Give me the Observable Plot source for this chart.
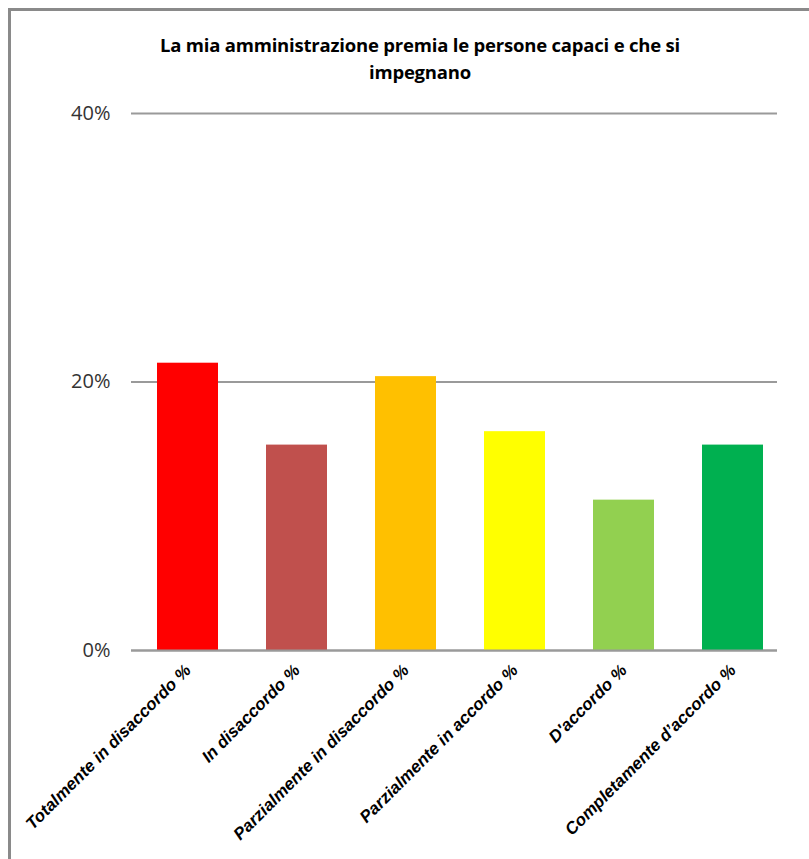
<!DOCTYPE html>
<html>
<head>
<meta charset="utf-8">
<script src="https://cdn.jsdelivr.net/npm/d3@7"></script>
<script src="https://cdn.jsdelivr.net/npm/@observablehq/plot@0.6"></script>
<style>
  html, body { margin: 0; padding: 0; background: #fff; }
  #wrap { position: relative; width: 809px; height: 859px; overflow: hidden; }
  #frame { position: absolute; left: 8px; top: 8px; right: -10px; bottom: -10px;
           border-left: 3px solid #8a8a8a; border-top: 3px solid #8a8a8a; pointer-events: none; }
  #title { position: absolute; left: 0; width: 840px; top: 31px; text-align: center;
           font-family: "Open Sans", Arial, sans-serif; font-weight: bold; font-size: 18.5px;
           letter-spacing: -0.2px; line-height: 27px; color: #000; }
  #chart { position: absolute; left: 0; top: 0; }
</style>
</head>
<body>
<div id="wrap">
  <div id="chart"></div>
  <div id="title">La mia amministrazione premia le persone capaci e che si<br>impegnano</div>
  <div id="frame"></div>
</div>
<script>
const categories = [
  "Totalmente in disaccordo %",
  "In disaccordo %",
  "Parzialmente in disaccordo %",
  "Parzialmente in accordo %",
  "D'accordo %",
  "Completamente d’accordo %"
];
const values = [21.4, 15.3, 20.4, 16.3, 11.2, 15.3];
const colors = ["#FF0000", "#C0504D", "#FFC000", "#FFFF00", "#92D050", "#00B050"];
const yTicks = [0, 20, 40];

const data = categories.map((c, i) => ({category: c, value: values[i], color: colors[i]}));

const chart = Plot.plot({
  width: 809,
  height: 859,
  marginTop: 113,
  marginBottom: 209,
  marginLeft: 131,
  marginRight: 32,
  style: {background: "transparent"},
  x: {domain: categories, range: [132, 788], paddingInner: 0.44, paddingOuter: 0.22, label: null},
  y: {domain: [0, 40], label: null},
  marks: [
    Plot.ruleY(yTicks, {stroke: "#9a9a9a", strokeWidth: 2}),
    Plot.barY(data, {x: "category", y: "value", fill: "color"}),
    Plot.ruleY([0], {stroke: "#9a9a9a", strokeWidth: 2}),
    Plot.axisY({
      ticks: yTicks, tickFormat: d => d + "%", tickSize: 0, tickPadding: 21,
      fontSize: 20, fill: "#333", fontFamily: "Open Sans, sans-serif", label: null
    }),
    Plot.axisX({
      tickRotate: -45, tickSize: 0, tickPadding: 17, fontSize: 17,
      fontStyle: "italic", fontWeight: "bold", fill: "#000",
      fontFamily: "Liberation Sans, Arial, sans-serif", label: null
    })
  ]
});
document.getElementById("chart").appendChild(chart);
</script>
</body>
</html>
